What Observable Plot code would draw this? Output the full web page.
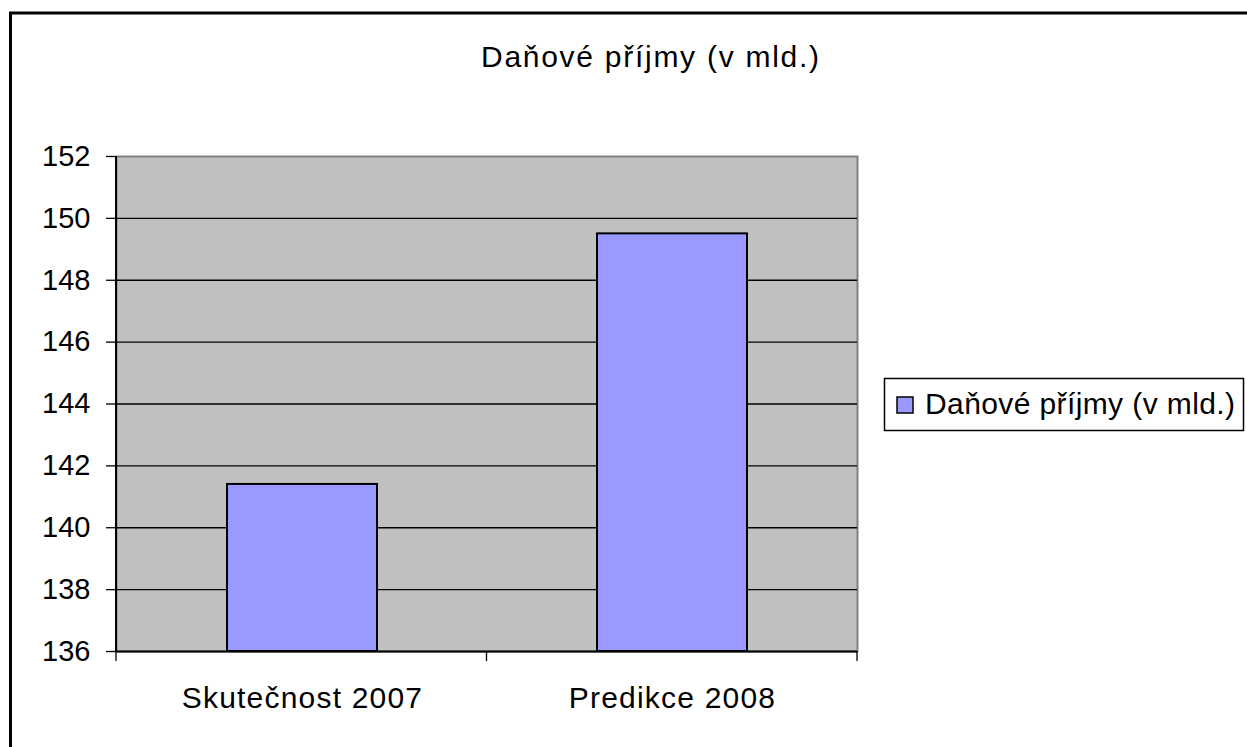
<!DOCTYPE html>
<html><head><meta charset="utf-8">
<script src="https://cdn.jsdelivr.net/npm/d3@7"></script>
<script src="https://cdn.jsdelivr.net/npm/@observablehq/plot@0.6"></script>
<style>html,body{margin:0;padding:0;background:#fff;overflow:hidden} #chart{position:relative;width:1247px;height:747px}
#chart svg g[aria-label="x-axis tick label"] text{letter-spacing:1.2px}</style>
</head><body><div id="chart"></div>
<script>
const chartTitle = "Daňové příjmy (v mld.)";
const seriesName = "Daňové příjmy (v mld.)";
const categories = ["Skutečnost 2007", "Predikce 2008"];
const values = [141.4, 149.5];
const yTicks = [136, 138, 140, 142, 144, 146, 148, 150, 152];

const data = categories.map((c, i) => ({category: c, value: values[i]}));
const font = "'Liberation Sans', Arial, sans-serif";
const W = 1247, H = 747;
const FS = 29;

const chart = Plot.plot({
  width: W, height: H,
  marginLeft: 116, marginRight: 390, marginTop: 156, marginBottom: 96,
  style: {fontFamily: font, fontSize: FS + "px", color: "#000", background: "transparent", overflow: "visible"},
  x: {domain: categories, paddingInner: 0.595, paddingOuter: 0.2975, label: null},
  y: {domain: [yTicks[0], yTicks[yTicks.length - 1]], label: null},
  marks: [
    Plot.frame({fill: "#C0C0C0", stroke: "#808080", strokeWidth: 2}),
    Plot.gridY(yTicks.slice(1, -1), {stroke: "#000", strokeOpacity: 1, strokeWidth: 1.3}),
    Plot.barY(data, {x: "category", y1: yTicks[0], y2: "value", fill: "#9999FF", stroke: "#000", strokeWidth: 2}),
    Plot.ruleY([yTicks[0]], {stroke: "#000", strokeWidth: 2}),
    Plot.axisY(yTicks, {tickSize: 10, tickPadding: 16, fontSize: FS, stroke: "#000", strokeWidth: 1.3}),
    Plot.axisX({tickSize: 0, tickPadding: 35, fontSize: 30})
  ]
});
document.getElementById("chart").appendChild(chart);

const svg = d3.select(chart);
const xs = chart.scale("x"), ys = chart.scale("y");
const x0 = xs.range[0], x1 = xs.range[1];
const yb = ys.apply(yTicks[0]), yt = ys.apply(yTicks[yTicks.length - 1]);
const step = (x1 - x0) / categories.length;

// left axis line
svg.append("line").attr("x1", x0).attr("x2", x0).attr("y1", yt).attr("y2", yb)
  .attr("stroke", "#000").attr("stroke-width", 2);
// category boundary ticks
for (let i = 0; i <= categories.length; i++) {
  const x = x0 + i * step;
  svg.append("line").attr("x1", x).attr("x2", x).attr("y1", yb).attr("y2", yb + 10)
    .attr("stroke", "#000").attr("stroke-width", 1.3);
}
// title
svg.append("text").attr("x", 481).attr("y", 67)
  .attr("text-anchor", "start").attr("font-family", font).attr("font-size", 30)
  .attr("textLength", 338).attr("lengthAdjust", "spacing")
  .attr("fill", "#000").text(chartTitle);
// legend
const lg = svg.append("g");
lg.append("rect").attr("x", 884.5).attr("y", 378.5).attr("width", 359).attr("height", 52)
  .attr("fill", "#fff").attr("stroke", "#000").attr("stroke-width", 1.5);
lg.append("rect").attr("x", 897).attr("y", 397).attr("width", 16).attr("height", 16)
  .attr("fill", "#9999FF").attr("stroke", "#000").attr("stroke-width", 1.5);
lg.append("text").attr("x", 925).attr("y", ys.apply(144) + 10).attr("font-family", font)
  .attr("text-anchor", "start").attr("textLength", 310).attr("lengthAdjust", "spacing")
  .attr("font-size", 30).attr("fill", "#000").text(seriesName);
// outer border
svg.append("rect").attr("x", 10.5).attr("y", 13).attr("width", 1400).attr("height", 900)
  .attr("fill", "none").attr("stroke", "#000").attr("stroke-width", 3);
</script>
</body></html>
